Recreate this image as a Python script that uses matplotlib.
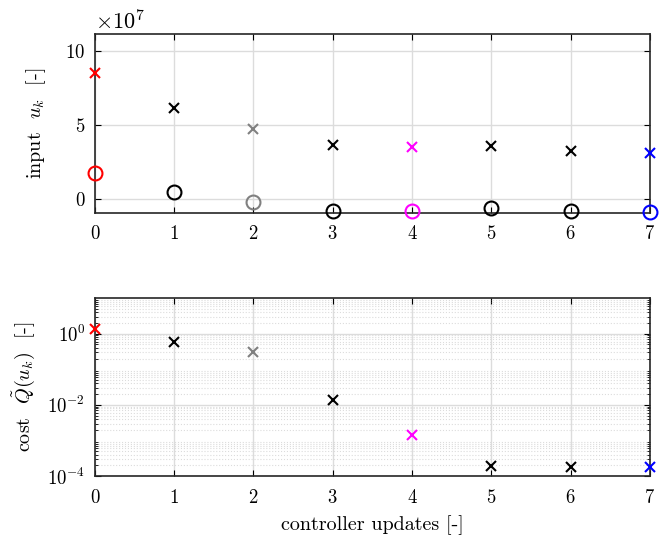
import matplotlib
matplotlib.use("Agg")
import matplotlib.pyplot as plt
import numpy as np
from matplotlib.ticker import LogLocator, NullFormatter, ScalarFormatter

plt.rcParams['font.family'] = 'serif'
plt.rcParams['font.serif'] = ['cmr10']
plt.rcParams['mathtext.fontset'] = 'cm'
plt.rcParams['axes.formatter.use_mathtext'] = True
plt.rcParams['font.size'] = 13.5

# data
updates = [0, 1, 2, 3, 4, 5, 6, 7]
u_cross = [8.5e7, 6.15e7, 4.73e7, 3.65e7, 3.5e7, 3.58e7, 3.24e7, 3.1e7]
u_circle = [1.76e7, 0.47e7, -0.2e7, -0.8e7, -0.8e7, -0.6e7, -0.8e7, -0.88e7]
cost = [1.38, 0.6, 0.3, 0.014, 1.4e-3, 1.9e-4, 1.85e-4, 1.85e-4]
colors = ['red', 'black', 'gray', 'black', 'magenta', 'black', 'black', 'blue']

fig = plt.figure(figsize=(6.59, 5.46), dpi=100)
ax1 = fig.add_axes([0.144, 0.61, 0.842, 0.328])
ax2 = fig.add_axes([0.144, 0.128, 0.842, 0.326])

for k in range(len(updates)):
    ax1.plot(updates[k], u_cross[k], 'x', color=colors[k], ms=7, mew=1.5,
             clip_on=False, zorder=5)
    ax1.plot(updates[k], u_circle[k], 'o', mfc='none', color=colors[k], ms=10,
             mew=1.5, clip_on=False, zorder=5)
    ax2.plot(updates[k], cost[k], 'x', color=colors[k], ms=7, mew=1.5,
             clip_on=False, zorder=5)

ax1.set_xlim(0, 7)
ax1.set_ylim(-0.95e7, 11.15e7)
ax1.set_yticks([0, 5e7, 10e7])
fmt = ScalarFormatter(useMathText=True)
fmt.set_powerlimits((7, 7))
ax1.yaxis.set_major_formatter(fmt)
ax1.yaxis.get_offset_text().set_fontsize(16)
ax1.set_xticks(updates)
ax1.set_ylabel(r'input  $u_k$  [-]', fontsize=14.5)
ax1.yaxis.set_label_coords(-0.085, 0.5)
ax1.grid(True, color='#dcdcdc', lw=1)

ax2.set_yscale('log')
ax2.set_xlim(0, 7)
ax2.set_ylim(1e-4, 10)
ax2.set_xticks(updates)
ax2.set_yticks([1e-4, 1e-2, 1e0])
ax2.yaxis.set_minor_locator(LogLocator(base=10, subs=np.arange(2, 10), numticks=20))
ax2.yaxis.set_minor_formatter(NullFormatter())
ax2.grid(True, which='major', color='#dcdcdc', lw=1)
ax2.grid(True, which='minor', axis='y', color='#dcdcdc', lw=0.8, ls=':')
ax2.set_ylabel(r'cost  $\tilde{Q}(u_k)$  [-]', fontsize=14.5)
ax2.yaxis.set_label_coords(-0.105, 0.5)
ax2.set_xlabel('controller updates [-]', fontsize=14.5, labelpad=6)

for ax in (ax1, ax2):
    ax.set_axisbelow(True)
    ax.tick_params(direction='in', which='both', top=True, right=True, length=4)
    ax.tick_params(axis='x', pad=9)
    ax.tick_params(axis='y', pad=7)
    ax.tick_params(which='minor', length=2)
    for s in ax.spines.values():
        s.set_color('#262626')
        s.set_linewidth(1.2)

fig.savefig('out.png', dpi=100)
